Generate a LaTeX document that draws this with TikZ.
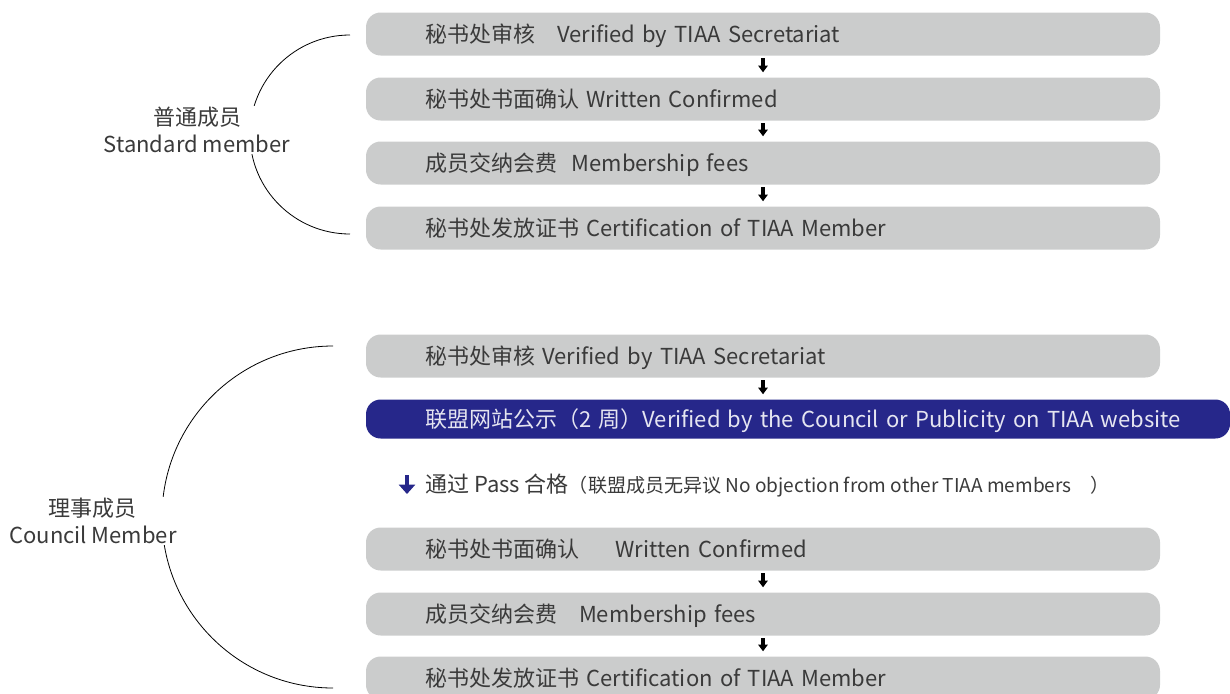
\documentclass[tikz,border=0pt]{standalone}
\usepackage{fontspec}
\setmainfont{Noto Sans CJK SC}
\usepackage{xcolor}
\usetikzlibrary{arrows.meta}
\definecolor{bargray}{HTML}{CBCCCC}
\definecolor{barblue}{HTML}{26278A}
\definecolor{txtgray}{HTML}{3A3A3A}
\newcommand\barfont{\fontsize{16.5}{20.25}\selectfont}
\newcommand\notefont{\fontsize{14.3}{16}\selectfont}
\tikzset{>=latex,
  stage/.style={fill=bargray, rounded corners=11pt, inner xsep=44.25pt, inner ysep=0pt,
    text width=507pt, text height=14pt, text depth=2pt, minimum height=32.25pt,
    align=left, text=txtgray, font=\barfont},
  notice/.style={stage, fill=barblue, text=white!88!barblue, text width=559.5pt, minimum height=29.25pt},
  nextstep/.style={-{Triangle[width=7pt,length=5pt]}, line width=2.4pt, black,
    shorten <=2pt, shorten >=3.7pt},
  passstep/.style={-{Triangle[width=12pt,length=7pt]}, line width=3pt, barblue},
  bracket/.style={line width=0.6pt, black},
  group/.style={fill=white, inner sep=1pt, align=center, text=txtgray, font=\barfont}
}

\begin{document}
\begin{tikzpicture}[x=0.75pt, y=-0.75pt]
      \useasboundingbox (0,0) rectangle (1230,693);
      \node[stage] (s1) at (763,34) {秘书处审核　Verified by TIAA Secretariat};
      \node[stage] (s2) at (763,99) {秘书处书面确认 Written Confirmed};
      \node[stage] (s3) at (763,163) {成员交纳会费\ \ Membership fees};
      \node[stage] (s4) at (763,228) {秘书处发放证书 Certification of TIAA Member};
      \draw[nextstep] (s1) -- (s2);
      \draw[nextstep] (s2) -- (s3);
      \draw[nextstep] (s3) -- (s4);
      \coordinate (stdtop) at (350,35);
      \draw[bracket] (stdtop) arc[start angle=-90, end angle=-270, x radius=100, y radius=99.5];
      \node[group] (std) at (197,130) {普通成员\\Standard member};
      \node[stage] (c1) at (763,356) {秘书处审核 Verified by TIAA Secretariat};
      \node[notice] (c2) at (798,419) {\mbox{联盟网站公示（2 周）Verified by the Council or Publicity on TIAA website}};
      \draw[nextstep] (c1) -- (c1 |- c2.north);
      \coordinate (passtop) at (407,475);
      \coordinate (passbot) at (407,494);
      \draw[passstep] (passtop) -- (passbot);
      \node[anchor=base west, inner sep=0pt, text=txtgray, font=\barfont] (pass) at (425,492)
        {通过 Pass 合格{\notefont （联盟成员无异议 No objection from other TIAA members　）}};
      \node[stage] (c3) at (763,549) {秘书处书面确认　\ \ Written Confirmed};
      \node[stage] (c4) at (763,614) {成员交纳会费　Membership fees};
      \node[stage] (c5) at (763,678) {秘书处发放证书 Certification of TIAA Member};
      \draw[nextstep] (c3) -- (c4);
      \draw[nextstep] (c4) -- (c5);
      \coordinate (counciltop) at (333,346);
      \draw[bracket] (counciltop) arc[start angle=-90, end angle=-270, x radius=171, y radius=171];
      \node[group] (council) at (93,521) {理事成员\\Council Member};
\end{tikzpicture}
\end{document}
